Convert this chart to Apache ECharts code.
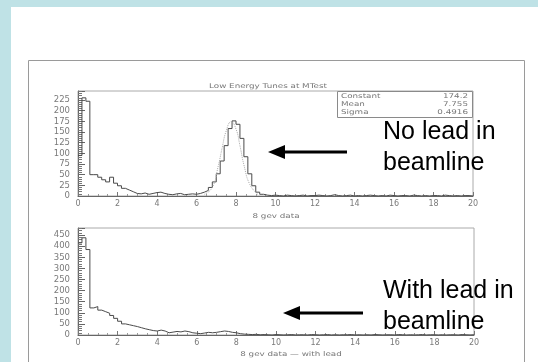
<!DOCTYPE html>
<html>
<head>
<meta charset="utf-8">
<script src="https://cdn.jsdelivr.net/npm/echarts@6/dist/echarts.min.js"></script>
<style>
  html, body { margin: 0; padding: 0; }
  #container { width: 538px; height: 362px; }
</style>
</head>
<body>
<div id="container"></div>
<script>
// bin width of both histograms (gev)
var binWidth = 0.2;
var xTicks = [0, 2, 4, 6, 8, 10, 12, 14, 16, 18, 20];

// 8 gev data, no lead in beamline (counts per bin)
var noLeadCounts = [
  95, 230, 222, 50, 50, 44, 38, 33, 44, 30,
  24, 18, 14, 10, 6, 5, 7, 4, 6, 8,
  9, 6, 4, 3, 5, 6, 3, 4, 5, 4,
  6, 9, 13, 20, 33, 52, 82, 118, 158, 176,
  168, 135, 92, 52, 24, 9, 4, 2, 1, 2,
  1, 0, 2, 1, 0, 1, 2, 0, 1, 1,
  2, 1, 0, 1, 3, 1, 0, 1, 2, 0,
  1, 0, 1, 2, 1, 0, 1, 0, 2, 1,
  0, 1, 1, 0, 2, 1, 0, 1, 0, 1,
  1, 0, 2, 1, 0, 1, 0, 1, 1, 0
];

// gaussian fit drawn over the peak
var fitX = [6.4, 6.8, 7.1, 7.3, 7.5, 7.755, 8.0, 8.2, 8.4, 8.7, 9.1];
var fitY = [4, 20, 70, 113, 152, 174, 157, 118, 73, 27, 4];

// 8 gev data -- with lead (counts per bin)
var withLeadCounts = [
  415, 438, 385, 122, 128, 112, 105, 98, 88, 75,
  62, 50, 46, 42, 38, 33, 28, 24, 20, 18,
  22, 18, 10, 13, 16, 14, 18, 15, 10, 8,
  6, 9, 12, 10, 12, 15, 18, 16, 12, 10,
  6, 4, 3, 2, 3, 1, 2, 1, 0, 2,
  1, 0, 1, 2, 0, 1, 1, 0, 2, 1,
  0, 1, 2, 0, 1, 0, 1, 1, 2, 0,
  1, 0, 1, 0, 2, 1, 0, 1, 1, 0,
  2, 1, 0, 1, 0, 1, 2, 0, 1, 1,
  0, 1, 0, 1, 1, 0, 2, 1, 0, 1
];

var statNames = ['Constant', 'Mean', 'Sigma'];
var statValues = ['174.2', '7.755', '0.4916'];

function histPoints(counts) {
  var pts = counts.map(function (v, i) { return [i * binWidth, v]; });
  pts.push([counts.length * binWidth, counts[counts.length - 1]]);
  return pts;
}

var labelColor = '#7a7a7a';
var smallFont = 'DejaVu Sans';

function makeXAxis(gridIndex) {
  return {
    type: 'value', gridIndex: gridIndex, min: 0, max: 20, interval: 2,
    axisLine: { lineStyle: { color: '#666', width: 1 } },
    axisTick: { inside: true, length: 4, lineStyle: { color: '#777' } },
    minorTick: { show: true, splitNumber: 4, length: 2, lineStyle: { color: '#999' } },
    splitLine: { show: false },
    axisLabel: { color: labelColor, fontSize: 8, fontFamily: smallFont, margin: 4 }
  };
}

function makeYAxis(gridIndex, max, interval) {
  return {
    type: 'value', gridIndex: gridIndex, min: 0, max: max, interval: interval,
    axisLine: { show: true, lineStyle: { color: '#666', width: 1 } },
    axisTick: { inside: true, length: 7, lineStyle: { color: '#666' } },
    minorTick: { show: true, splitNumber: 5, length: 4, lineStyle: { color: '#777' } },
    splitLine: { show: false },
    axisLabel: { color: labelColor, fontSize: 8.5, fontFamily: smallFont, margin: 8, showMaxLabel: false }
  };
}

// small scanned-looking text, stretched sideways like the original
function smallText(str, x, y, align, z) {
  return {
    type: 'text', z: z || 1, x: x, y: y, scaleX: 1.35,
    style: { text: str, font: '6.5px DejaVu Sans', fill: '#777', align: align, verticalAlign: 'middle' }
  };
}

var graphics = [
  { type: 'rect', z: -10, shape: { x: 11, y: 7, width: 527, height: 355 }, style: { fill: '#ffffff' } },
  { type: 'rect', z: -9, shape: { x: 28.5, y: 60.5, width: 496, height: 320 }, style: { fill: 'none', stroke: '#9a9a9a', lineWidth: 1 } },
  smallText('Low Energy Tunes at MTest', 268, 86, 'center'),
  { type: 'rect', z: 5, shape: { x: 337.5, y: 91.5, width: 135, height: 26 }, style: { fill: '#fff', stroke: '#8a8a8a', lineWidth: 1 } },
  smallText('8 gev data', 276, 216, 'center'),
  smallText('8 gev data \u2014 with lead', 291, 354, 'center')
];

statNames.forEach(function (n, i) {
  graphics.push(smallText(n, 341, 96 + i * 8, 'left', 6));
  graphics.push(smallText(statValues[i], 468, 96 + i * 8, 'right', 6));
});

// annotations with arrows
function arrow(tipX, tailX, y) {
  graphics.push({ type: 'line', z: 10, shape: { x1: tipX + 12, y1: y, x2: tailX, y2: y }, style: { stroke: '#000', lineWidth: 3 } });
  graphics.push({ type: 'polygon', z: 10, shape: { points: [[tipX, y], [tipX + 17, y - 7], [tipX + 17, y + 7]] }, style: { fill: '#000' } });
}
arrow(268, 347, 152);
arrow(283, 363, 313);

function bigText(str, x, y) {
  graphics.push({ type: 'text', z: 10, x: x, y: y, style: { text: str, font: '25px Liberation Sans', fill: '#000', align: 'left', verticalAlign: 'middle' } });
}
bigText('No lead in', 383, 132);
bigText('beamline', 383, 163);
bigText('With lead in', 383, 291);
bigText('beamline', 383, 322);

var option = {
  backgroundColor: '#bfe2e6',
  animation: false,
  grid: [
    { left: 78, top: 91, width: 395, height: 105, show: true, borderColor: '#aaa', borderWidth: 1, backgroundColor: 'transparent' },
    { left: 78, top: 228, width: 396, height: 107, show: true, borderColor: '#aaa', borderWidth: 1, backgroundColor: 'transparent' }
  ],
  xAxis: [makeXAxis(0), makeXAxis(1)],
  yAxis: [makeYAxis(0, 246, 25), makeYAxis(1, 482, 50)],
  graphic: graphics,
  series: [
    {
      type: 'line', xAxisIndex: 0, yAxisIndex: 0, step: 'end', symbol: 'none',
      lineStyle: { color: '#4a4a4a', width: 1 },
      data: histPoints(noLeadCounts)
    },
    {
      type: 'line', xAxisIndex: 0, yAxisIndex: 0, smooth: true, symbol: 'none',
      lineStyle: { color: '#aaa', width: 1, type: 'dotted' },
      data: fitX.map(function (x, i) { return [x, fitY[i]]; })
    },
    {
      type: 'line', xAxisIndex: 1, yAxisIndex: 1, step: 'end', symbol: 'none',
      lineStyle: { color: '#4a4a4a', width: 1 },
      data: histPoints(withLeadCounts)
    }
  ]
};

var chart = echarts.init(document.getElementById('container'));
chart.setOption(option);
</script>
</body>
</html>
